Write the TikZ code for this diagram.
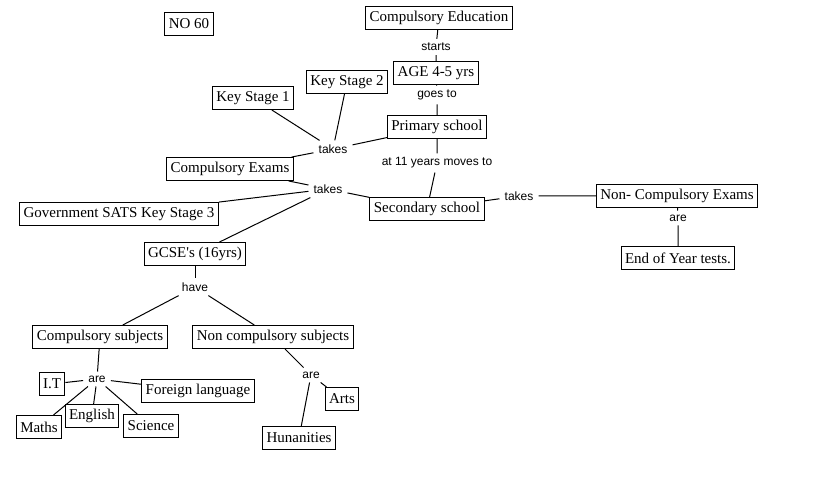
\documentclass[tikz,border=0pt]{standalone}
\usepackage{fontspec}
\setmainfont{Liberation Serif}
\newfontfamily\labelfont{Liberation Sans}
\newcommand{\straightquote}{\XeTeXglyph\XeTeXglyphindex"quotesingle"\relax}
\usepackage{tikz}
\usetikzlibrary{positioning}

\begin{document}
\begin{tikzpicture}[x=1pt, y=-1pt,
    box/.style={draw, rectangle, line width=1pt, font=\fontsize{15}{15}\selectfont,
        inner xsep=4pt, inner ysep=2pt, minimum height=23pt},
    phrase/.style={font=\labelfont\fontsize{12}{12}\selectfont, inner xsep=5pt, inner ysep=4pt},
    link/.style={line width=1pt}]
    \useasboundingbox[fill=white] (0,0) rectangle (816,502);

    % concepts
    \node[box] (noSixty) at (189,24) {NO 60};
    \node[box] (compEdu) at (439,18) {Compulsory Education};
    \node[box] (age) at (436,73) {AGE 4-5 yrs};
    \node[box] (primary) at (437,127) {Primary school};
    \node[box] (secondary) at (427,209) {Secondary school};
    \node[box] (ks1) at (253,98) {Key Stage 1};
    \node[box] (ks2) at (347,82) {Key Stage 2};
    \node[box] (compExams) at (230,169) {Compulsory Exams};
    \node[box] (sats) at (119,214) {Government SATS Key Stage 3};
    \node[box] (gcse) at (195,254) {GCSE\straightquote s (16yrs)};
    \node[box] (compSubj) at (100,337) {Compulsory subjects};
    \node[box] (nonCompSubj) at (273,337) {Non compulsory subjects};
    \node[box] (it) at (52,384) {I.T};
    \node[box] (foreign) at (198,391) {Foreign language};
    \node[box] (maths) at (39,427) {Maths};
    \node[box] (english) at (92,416) {English};
    \node[box] (science) at (151,426) {Science};
    \node[box] (arts) at (342,399) {Arts};
    \node[box] (humanities) at (299,438) {Hunanities};
    \node[box] (nonCompExams) at (677,196) {Non- Compulsory Exams};
    \node[box] (endYear) at (678,258) {End of Year tests.};

    % linking phrases
    \node[phrase] (starts) at (436,47) {starts};
    \node[phrase] (goesTo) at (437,95) {goes to};
    \node[phrase] (movesTo) at (437,163) {at 11 years moves to};
    \node[phrase] (takesA) at (333,149) {takes};
    \node[phrase] (takesB) at (328,189) {takes};
    \node[phrase] (takesC) at (519,196) {takes};
    \node[phrase] (have) at (195,287) {have};
    \node[phrase] (areA) at (97,379) {are};
    \node[phrase] (areB) at (311,375) {are};
    \node[phrase] (areC) at (678,218) {are};

    % connectors
    \draw[link] (compEdu) -- (starts) -- (age);
    \draw[link] (age) -- (goesTo) -- (primary);
    \draw[link] (primary) -- (movesTo) -- (secondary);
    \draw[link] (primary) -- (takesA);
    \draw[link] (takesA) -- (ks1);
    \draw[link] (takesA) -- (ks2);
    \draw[link] (takesA) -- (compExams);
    \draw[link] (compExams) -- (takesB) -- (secondary);
    \draw[link] (takesB) -- (sats);
    \draw[link] (takesB) -- (gcse);
    \draw[link] (gcse) -- (have);
    \draw[link] (have) -- (compSubj);
    \draw[link] (have) -- (nonCompSubj);
    \draw[link] (compSubj) -- (areA);
    \foreach \sub in {it, foreign, maths, english, science}
        \draw[link] (areA) -- (\sub);
    \draw[link] (nonCompSubj) -- (areB);
    \draw[link] (areB) -- (arts);
    \draw[link] (areB) -- (humanities);
    \draw[link] (secondary) -- (takesC) -- (nonCompExams);
    \draw[link] (nonCompExams) -- (areC) -- (endYear);
\end{tikzpicture}
\end{document}
